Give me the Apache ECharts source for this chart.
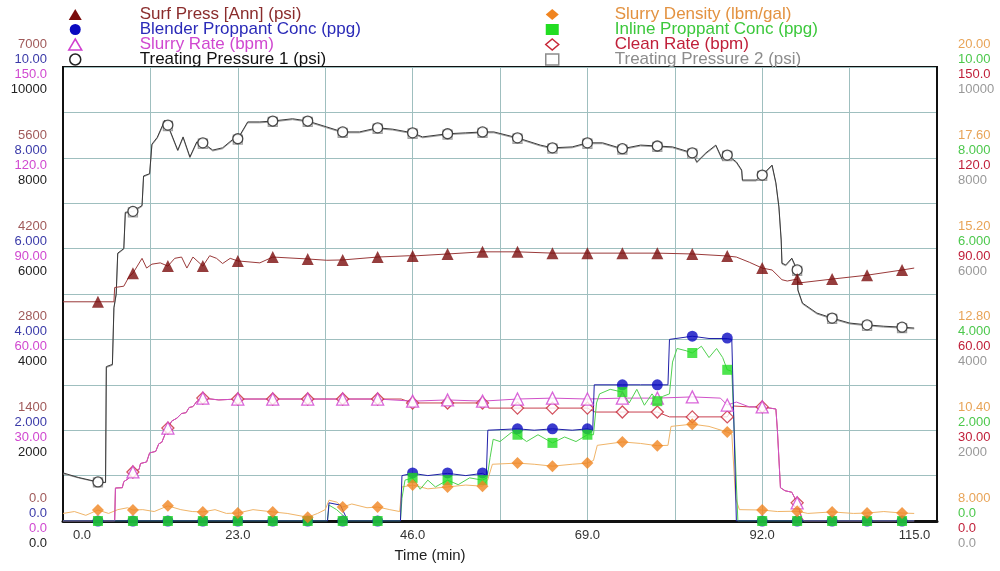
<!DOCTYPE html>
<html>
<head>
<meta charset="utf-8">
<script src="https://cdn.jsdelivr.net/npm/echarts@6/dist/echarts.min.js"></script>
<style>
html,body{margin:0;padding:0;background:#fff;}
#chart{width:1000px;height:571px;}
</style>
</head>
<body>
<div id="chart"></div>
<script>
// ---- tick labels ----
const xTicks = ['0.0', '23.0', '46.0', '69.0', '92.0', '115.0'];
const surfTicks = ['0.0', '1400', '2800', '4200', '5600', '7000'];
const blenderTicks = ['0.0', '2.000', '4.000', '6.000', '8.000', '10.00'];
const slurryTicks = ['0.0', '30.00', '60.00', '90.00', '120.0', '150.0'];
const tp1Ticks = ['0.0', '2000', '4000', '6000', '8000', '10000'];
const densityTicks = ['8.000', '10.40', '12.80', '15.20', '17.60', '20.00'];
const inlineTicks = ['0.0', '2.000', '4.000', '6.000', '8.000', '10.00'];
const cleanTicks = ['0.0', '30.00', '60.00', '90.00', '120.0', '150.0'];
const tp2Ticks = ['0.0', '2000', '4000', '6000', '8000', '10000'];

// ---- series names ----
const names = {
  surf: 'Surf Press [Ann] (psi)', blender: 'Blender Proppant Conc (ppg)',
  slurry: 'Slurry Rate (bpm)', tp1: 'Treating Pressure 1 (psi)',
  density: 'Slurry Density (lbm/gal)', inline: 'Inline Proppant Conc (ppg)',
  clean: 'Clean Rate (bpm)', tp2: 'Treating Pressure 2 (psi)'
};

// ---- line data [time (min), value] ----
const tp1 = [[0,1060],[2,960],[4.6,860],[5.6,850],[5.7,3400],[6.5,3450],[6.7,4700],[7.0,5000],[7.2,5900],[8.0,6000],[8.2,6800],[9.2,6820],[10.4,6950],[10.6,7600],[11.4,7650],[11.7,8300],[12.4,8450],[13.4,8830],[13.8,8720],[15.1,8170],[15.8,8460],[16.7,8020],[17.6,8350],[18.4,8330],[19.7,8170],[21.0,8220],[22.3,8400],[23.0,8420],[24.3,8790],[25.9,8790],[27.6,8810],[30.2,8860],[32.2,8810],[34.7,8680],[36.8,8570],[39.0,8570],[41.4,8660],[43.4,8630],[46.0,8550],[47.3,8460],[50.6,8530],[53.0,8550],[55.2,8570],[56.7,8570],[59.8,8440],[62.8,8280],[64.4,8220],[67.0,8240],[69.0,8330],[71.0,8330],[73.6,8200],[76.0,8280],[78.2,8260],[80.2,8240],[82.8,8110],[83.4,7910],[84.6,8110],[85.9,8280],[86.8,7950],[87.4,8060],[88.6,7910],[89.3,7730],[89.4,7510],[91.2,7510],[92.0,7620],[93.3,7840],[93.8,7450],[94.2,6920],[94.5,6190],[94.6,5680],[95.1,5640],[95.9,5790],[96.6,5530],[96.7,5090],[97.3,4800],[99.2,4580],[101.2,4470],[103.5,4360],[105.8,4320],[108,4290],[110.4,4270],[112,4250]];
const tp2 = [[0,1040],[2,950],[4.6,850],[5.6,845],[5.7,3380],[6.5,3430],[6.7,4680],[7.0,4990],[7.2,5880],[8.0,5990],[8.2,6780],[9.2,6800],[10.4,6930],[10.6,7580],[11.4,7640],[11.7,8280],[12.4,8430],[13.4,8800],[13.8,8700],[15.1,8150],[15.8,8440],[16.7,8000],[17.6,8330],[18.4,8310],[19.7,8150],[21.0,8200],[22.3,8380],[23.0,8400],[24.3,8770],[25.9,8770],[27.6,8790],[30.2,8840],[32.2,8790],[34.7,8660],[36.8,8550],[39.0,8550],[41.4,8640],[43.4,8610],[46.0,8530],[47.3,8440],[50.6,8510],[53.0,8530],[55.2,8550],[56.7,8550],[59.8,8420],[62.8,8260],[64.4,8200],[67.0,8220],[69.0,8310],[71.0,8310],[73.6,8180],[76.0,8260],[78.2,8240],[80.2,8220],[82.8,8090],[83.4,7890],[84.6,8090],[85.9,8260],[86.8,7930],[87.4,8040],[88.6,7890],[89.3,7710],[89.4,7490],[91.2,7490],[92.0,7600],[93.3,7820],[93.8,7430],[94.2,6900],[94.5,6170],[94.6,5660],[95.1,5620],[95.9,5770],[96.6,5510],[96.7,5070],[97.3,4780],[99.2,4560],[101.2,4450],[103.5,4340],[105.8,4300],[108,4270],[110.4,4250],[112,4230]];
const surf = [[0,3380],[4.6,3380],[6.7,3380],[6.8,3600],[8.0,3620],[8.7,3770],[9.2,3820],[10.4,4050],[11.0,3900],[11.7,3960],[12.8,3980],[13.8,3930],[14.7,4050],[15.6,4070],[16.3,3900],[17.1,4070],[18.4,3930],[19.3,4090],[20.2,4050],[21.0,3970],[22.0,4050],[23.0,4010],[25.9,3980],[27.6,4070],[32.2,4040],[34.7,4020],[36.8,4025],[41.4,4070],[45.6,4090],[46.0,4086],[50.6,4117],[55.2,4150],[59.8,4150],[64.4,4130],[69,4130],[73.6,4130],[78.2,4130],[82.8,4117],[87.4,4086],[88.6,4070],[90.3,3990],[92,3900],[93.3,3870],[94.6,3720],[95.3,3700],[96.6,3730],[96.8,3670],[101.2,3730],[105.8,3790],[110.4,3870],[112,3900]];
const slurry = [[0,0],[6.8,0],[6.9,10.9],[7.8,11],[8.0,13],[8.6,14],[9.2,16.2],[10.0,17],[10.2,19],[11.0,19.5],[11.4,22.5],[12.2,23],[12.6,25.5],[13.0,26],[13.4,28.5],[13.8,30.7],[14.3,33],[15.0,34],[15.6,35.5],[16.2,35.8],[16.6,37.5],[17.1,37.8],[17.6,39.5],[18.4,40.6],[20.5,40],[23,40.3],[27.6,40.3],[32.2,40.3],[36.8,40.3],[41.4,40.3],[46,39.6],[50.6,40],[55.2,39.6],[59.8,40.3],[64.4,40.6],[69,40.3],[73.6,40.6],[78.2,40.6],[82.8,41],[86.5,40.6],[87.4,38.3],[88.6,39.3],[90.3,37.7],[92,37.7],[93.8,37],[94.0,30],[94.4,11],[95.0,10],[95.9,9.5],[96.6,6],[97.2,1],[97.5,0],[112,0]];
const clean = [[0,0],[6.8,0],[6.9,10.9],[7.8,11],[8.0,13],[8.6,14],[9.2,16.2],[10.0,17],[10.2,19],[11.0,19.5],[11.4,22.5],[12.2,23],[12.6,25.5],[13.0,26],[13.4,28.5],[13.8,30.7],[14.3,33],[15.0,34],[15.6,35.5],[16.2,35.8],[16.6,37.5],[17.1,37.8],[17.6,39.5],[18.4,40.6],[20.5,40],[23,40.3],[41.4,40.3],[44.5,40.3],[46,39],[50.6,39],[55.2,39],[55.8,38.5],[56,37.3],[59.8,37.3],[64.4,37.3],[69,37.3],[70,36],[73.6,36],[78.2,36],[79.8,34.4],[82.8,34.4],[87.4,34.4],[88.2,38],[90.3,37.7],[92,37.7],[93.8,37],[94.0,30],[94.4,11],[95.0,10],[95.9,9.5],[96.6,6],[97.2,1],[97.5,0],[112,0]];
const density = [[0,8.2],[1.5,8.25],[3,8.15],[4.6,8.29],[6,8.2],[7.2,8.3],[8.5,8.35],[9.2,8.29],[10.5,8.3],[12,8.25],[13.8,8.4],[15.5,8.3],[17,8.25],[18.4,8.24],[20,8.3],[21.5,8.2],[23,8.21],[25,8.3],[27.6,8.24],[29.5,8.2],[32.2,8.1],[33.5,8.2],[34.5,8.3],[35,8.55],[36,8.5],[36.8,8.37],[38,8.45],[40,8.35],[41.4,8.37],[43,8.3],[44.3,8.25],[44.6,8.9],[46,8.95],[48,8.85],[50.6,8.9],[53,8.95],[55.2,8.92],[55.9,9.1],[56.5,9.5],[59.8,9.53],[62,9.5],[64.4,9.45],[67,9.5],[69,9.53],[69.8,9.6],[70.3,10.0],[73.6,10.09],[76,10.05],[78.2,9.99],[79.6,10.0],[80,10.5],[82.8,10.56],[85,10.5],[87.4,10.35],[88,10.3],[88.5,8.6],[89,8.3],[92,8.29],[94,8.25],[96.6,8.26],[98,8.2],[101.2,8.24],[104,8.2],[105.8,8.21],[108,8.25],[110.4,8.21],[112,8.2]];
const blender = [[0,0],[34.8,0],[35,0.4],[36.5,0.35],[37.2,0.1],[37.5,0],[44.4,0],[44.6,1.0],[46,1.05],[48,1.0],[50.6,1.05],[53,1.0],[55.2,1.05],[55.7,1.0],[55.9,2.0],[59.8,2.03],[62,2.0],[64.4,2.03],[67,2.0],[69,2.03],[69.7,2.0],[69.9,3.0],[73.6,3.0],[76,3.0],[78.2,3.0],[79.6,3.0],[79.8,4.0],[82.8,4.07],[85,4.02],[87.4,4.02],[88.0,4.0],[88.6,0],[112,0]];
const inline = [[0,0],[34.8,0],[35,0.35],[36,0.25],[37,0.1],[37.5,0],[44.4,0],[44.6,0.5],[45,0.9],[46,0.95],[47,0.7],[48,0.9],[49,0.75],[50.6,0.9],[52,0.8],[53.5,0.95],[55.2,0.9],[55.8,0.95],[56.2,1.4],[56.6,1.8],[57.5,1.75],[59,1.95],[59.8,1.9],[61,1.75],[62.5,1.9],[64.4,1.72],[66,1.85],[67.5,1.75],[69,1.9],[69.8,1.9],[70.2,2.6],[70.6,2.8],[72,2.9],[73.6,2.84],[74.5,2.6],[75.5,2.9],[76.5,2.55],[77.5,2.8],[78.2,2.64],[79,2.75],[79.8,2.8],[80.2,3.5],[80.8,3.8],[82,3.75],[82.8,3.7],[84,3.85],[85,3.6],[86,3.8],[86.8,3.6],[87.4,3.33],[88,3.3],[88.8,0],[112,0]];

// ---- marker data (times and values; null = no visible marker) ----
const markTimes = [4.6, 9.2, 13.8, 18.4, 23.0, 27.6, 32.2, 36.8, 41.4, 46.0, 50.6, 55.2, 59.8, 64.4, 69.0, 73.6, 78.2, 82.8, 87.4, 92.0, 96.6, 101.2, 105.8, 110.4];
const tp1Marks = [860, 6820, 8720, 8330, 8420, 8810, 8810, 8570, 8660, 8550, 8530, 8570, 8440, 8220, 8330, 8200, 8260, 8110, 8060, 7620, 5530, 4470, 4320, 4270];
const tp2Marks = [850, 6800, 8700, 8310, 8400, 8790, 8790, 8550, 8640, 8530, 8510, 8550, 8420, 8200, 8310, 8180, 8240, 8090, 8040, 7600, 5510, 4450, 4300, 4250];
const surfMarks = [3380, 3820, 3930, 3930, 4010, 4070, 4040, 4025, 4070, 4086, 4117, 4150, 4150, 4130, 4130, 4130, 4130, 4117, 4086, 3900, 3730, 3730, 3790, 3870];
const slurryMarks = [null, 16.2, 30.7, 40.6, 40.3, 40.3, 40.3, 40.3, 40.3, 39.6, 40, 39.6, 40.3, 40.6, 40.3, 40.6, 40.6, 41, 38.3, 37.7, 6, null, null, null];
const cleanMarks = [null, 16.2, 30.7, 40.6, 40.3, 40.3, 40.3, 40.3, 40.3, 39, 39, 39, 37.3, 37.3, 37.3, 36, 36, 34.4, 34.4, 37.7, 6, null, null, null];
const densityMarks = [8.29, 8.29, 8.4, 8.24, 8.21, 8.24, 8.1, 8.37, 8.37, 8.95, 8.9, 8.92, 9.53, 9.45, 9.53, 10.09, 9.99, 10.56, 10.35, 8.29, 8.26, 8.24, 8.21, 8.21];
const blenderMarks = [0, 0, 0, 0, 0, 0, 0, 0, 0, 1.06, 1.06, 1.06, 2.03, 2.03, 2.03, 3.0, 3.0, 4.07, 4.03, 0, 0, 0, 0, 0];
const inlineMarks = [0, 0, 0, 0, 0, 0, 0, 0, 0, 0.95, 0.9, 0.9, 1.9, 1.72, 1.9, 2.84, 2.64, 3.7, 3.33, 0, 0, 0, 0, 0];

const FONT = 'Liberation Sans, Arial, sans-serif';
const C = {
  surfLine: '#9a3a3a', surfMark: '#7a0c0c', surfText: '#8a2c2c', surfTick: '#a05a5a',
  blenderLine: '#2020a8', blenderMark: '#0a0ac0', blenderText: '#2a2ab8', blenderTick: '#3a3aa8',
  slurryLine: '#d050c8', slurryMark: '#d040d0', slurryText: '#d048d0',
  tp1Line: '#3a3a3a', tp1Mark: '#222222', tp1Text: '#111111',
  densityLine: '#f0b468', densityMark: '#f08420', densityText: '#e39240',
  inlineLine: '#50d050', inlineMark: '#22dd22', inlineText: '#3cc83c',
  cleanLine: '#c84050', cleanMark: '#c82838', cleanText: '#c0203a',
  tp2Line: '#9a9a9a', tp2Mark: '#8c8c8c', tp2Text: '#8c8c8c'
};

function marks(vals) { return markTimes.map((t, i) => [t, vals[i]]).filter(p => p[1] !== null); }

const chart = echarts.init(document.getElementById('chart'), null, {renderer: 'canvas'});

const leftLabel = (v, i) => {
  if (i % 2) return '';
  const k = i / 2;
  return '{s|' + surfTicks[k] + '}\n{b|' + blenderTicks[k] + '}\n{r|' + slurryTicks[k] + '}\n{t|' + tp1Ticks[k] + '}';
};
const rightLabel = (v, i) => {
  if (i % 2) return '';
  const k = i / 2;
  return '{d|' + densityTicks[k] + '}\n{g|' + inlineTicks[k] + '}\n{c|' + cleanTicks[k] + '}\n{p|' + tp2Ticks[k] + '}';
};
const rs = (color) => ({color: color, fontSize: 13, lineHeight: 15, fontFamily: FONT});

const hiddenAxis = (min, max) => ({type: 'value', min: min, max: max, show: false, splitLine: {show: false}});

const lineS = (name, data, yi, color, z) => ({
  name: name, type: 'line', data: data, yAxisIndex: yi, showSymbol: false,
  lineStyle: {color: color, width: 1}, itemStyle: {color: color}, z: z || 2, animation: false
});
const markS = (name, data, yi, symbol, color, hollow, size, z) => ({
  name: name, type: 'scatter', data: data, yAxisIndex: yi, symbol: symbol, symbolSize: size,
  itemStyle: hollow ? {color: '#ffffff', borderColor: color, borderWidth: 1.3} : {color: color},
  z: z || 4, animation: false
});

const legItem = (name, icon, color, hollow, textColor) => ({
  name: name, icon: icon,
  itemStyle: hollow ? {color: '#ffffff', borderColor: color, borderWidth: 1.5} : {color: color, borderWidth: 0},
  textStyle: {color: textColor}
});

const legendBase = {
  orient: 'vertical', itemGap: -2, itemWidth: 13, itemHeight: 11, selectedMode: false, padding: 0,
  textStyle: {fontSize: 17, lineHeight: 14.5, fontFamily: FONT, padding: [0, 0, 0, 53]}
};

chart.setOption({
  backgroundColor: '#ffffff',
  animation: false,
  textStyle: {fontFamily: FONT},
  legend: [
    Object.assign({}, legendBase, {left: 68, top: 6, data: [
      legItem(names.surf, 'triangle', C.surfMark, false, C.surfText),
      legItem(names.blender, 'circle', C.blenderMark, false, C.blenderText),
      legItem(names.slurry, 'triangle', C.slurryMark, true, C.slurryText),
      legItem(names.tp1, 'circle', C.tp1Mark, true, C.tp1Text)
    ]}),
    Object.assign({}, legendBase, {left: 545, top: 6,
      textStyle: Object.assign({}, legendBase.textStyle, {padding: [0, 0, 0, 51]}), data: [
      legItem(names.density, 'diamond', C.densityMark, false, C.densityText),
      legItem(names.inline, 'rect', C.inlineMark, false, C.inlineText),
      legItem(names.clean, 'diamond', C.cleanMark, true, C.cleanText),
      legItem(names.tp2, 'rect', C.tp2Mark, true, C.tp2Text)
    ]})
  ],
  grid: {left: 63, right: 63, top: 67, bottom: 50, show: true, borderColor: '#111', borderWidth: 2, backgroundColor: 'transparent'},
  xAxis: {
    type: 'value', min: 0, max: 115, interval: 11.5,
    name: 'Time (min)', nameLocation: 'middle', nameGap: 27,
    nameTextStyle: {fontSize: 15, color: '#222', fontFamily: FONT, padding: [0, 140, 0, 0]},
    axisLine: {show: true, lineStyle: {color: '#111', width: 3}},
    axisTick: {show: false},
    splitLine: {show: true, lineStyle: {color: '#9fbfbf', width: 1}},
    axisLabel: {
      margin: 8, color: '#333', fontSize: 13, fontFamily: FONT,
      formatter: (v, i) => {
        if (i % 2) return '';
        const k = i / 2;
        if (k === 0) return '{l|' + xTicks[k] + '}';
        if (k === xTicks.length - 1) return '{r|' + xTicks[k] + '}';
        return xTicks[k];
      },
      rich: {l: {padding: [0, 0, 0, 38], fontSize: 13, color: '#333'}, r: {padding: [0, 45, 0, 0], fontSize: 13, color: '#333'}}
    }
  },
  yAxis: [
    { // 0: Treating Pressure 1 (left, visible)
      type: 'value', min: 0, max: 10000, interval: 1000, position: 'left',
      axisLine: {show: true, lineStyle: {color: '#111', width: 2}},
      axisTick: {show: false},
      splitLine: {show: true, lineStyle: {color: '#9fbfbf', width: 1}},
      axisLabel: {margin: 16, align: 'right', formatter: leftLabel,
        rich: {s: rs(C.surfTick), b: rs(C.blenderTick), r: rs(C.slurryText), t: rs('#222')}}
    },
    { // 1: Treating Pressure 2 (right, visible)
      type: 'value', min: 0, max: 10000, interval: 1000, position: 'right',
      axisLine: {show: true, lineStyle: {color: '#111', width: 2}},
      axisTick: {show: false},
      splitLine: {show: false},
      axisLabel: {margin: 21, align: 'left', formatter: rightLabel,
        rich: {d: rs('#e8a458'), g: rs('#4cc84c'), c: rs(C.cleanText), p: rs('#999999')}}
    },
    hiddenAxis(0, 7000),   // 2 surf press
    hiddenAxis(0, 10),     // 3 blender
    hiddenAxis(0, 150),    // 4 slurry rate
    hiddenAxis(8, 20),     // 5 slurry density
    hiddenAxis(0, 10),     // 6 inline conc
    hiddenAxis(0, 150)     // 7 clean rate
  ],
  series: [
    lineS(names.tp2, tp2, 1, C.tp2Line, 2),
    lineS(names.tp1, tp1, 0, C.tp1Line, 2),
    lineS(names.surf, surf, 2, C.surfLine, 2),
    lineS(names.density, density, 5, C.densityLine, 2),
    lineS(names.clean, clean, 7, C.cleanLine, 2),
    lineS(names.slurry, slurry, 4, C.slurryLine, 2),
    lineS(names.inline, inline, 6, C.inlineLine, 2),
    lineS(names.blender, blender, 3, C.blenderLine, 2),
    markS(names.tp2, marks(tp2Marks), 1, 'rect', C.tp2Mark, true, 9, 4),
    markS(names.tp1, marks(tp1Marks), 0, 'circle', C.tp1Mark, true, 10, 4),
    markS(names.surf, marks(surfMarks), 2, 'triangle', C.surfMark, false, 12, 4),
    markS(names.clean, marks(cleanMarks), 7, 'diamond', C.cleanMark, true, 12, 4),
    markS(names.slurry, marks(slurryMarks), 4, 'triangle', C.slurryMark, true, 12, 4),
    markS(names.blender, marks(blenderMarks), 3, 'circle', C.blenderMark, false, 11, 4),
    markS(names.inline, marks(inlineMarks), 6, 'rect', C.inlineMark, false, 10, 5),
    markS(names.density, marks(densityMarks), 5, 'diamond', C.densityMark, false, 12, 5)
  ]
});
</script>
</body>
</html>
